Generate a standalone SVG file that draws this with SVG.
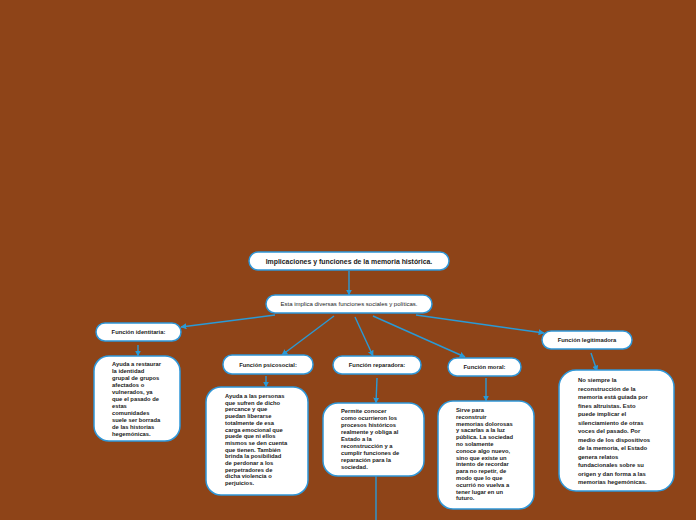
<svg xmlns="http://www.w3.org/2000/svg" width="696" height="520" viewBox="0 0 696 520">
<style>
.n{fill:#fff;stroke:#2f97d8;stroke-width:1.5}
.t{font-family:"Liberation Sans",Arial,sans-serif;fill:#1a1a1a;font-weight:bold}
.c{stroke:#2a9ad6;stroke-width:1.4;fill:none;marker-end:url(#a)}
</style>
<defs>
<marker id="a" viewBox="0 0 10 10" refX="9" refY="5" markerWidth="6" markerHeight="6" orient="auto" markerUnits="userSpaceOnUse"><path d="M0,0L10,5L0,10z" fill="#2a9ad6"/></marker>
</defs>
<rect width="696" height="520" fill="#8e4418"/>
<g id="connectors">
<path class="c" d="M349,271V295"/>
<path class="c" d="M275,315L181,327"/>
<path class="c" d="M334,316L282,355"/>
<path class="c" d="M355,317L373,356"/>
<path class="c" d="M373,316L465,357"/>
<path class="c" d="M416,315L544,333"/>
<path class="c" d="M138,345V356"/>
<path class="c" d="M266,376V387"/>
<path class="c" d="M377,378L376,403"/>
<path d="M376,476V520" stroke="#2a9ad6" stroke-width="1.4"/>
<path class="c" d="M486,378V401"/>
<path class="c" d="M591,353L597,371"/>
</g>
<g id="root"><rect class="n" x="249" y="252" width="200" height="18" rx="9"/><text class="t" x="349" y="263.6" font-size="6.9" text-anchor="middle">Implicaciones y funciones de la memoria histórica.</text></g>
<g id="sub"><rect class="n" x="266" y="295" width="166" height="18" rx="9"/><text class="t" x="349" y="306" font-size="6" text-anchor="middle" style="font-weight:normal">Esta implica diversas funciones sociales y políticas.</text></g>
<g id="identitaria"><rect class="n" x="96" y="323" width="85" height="18" rx="9"/><text class="t" x="138.5" y="334" font-size="5.8" text-anchor="middle">Función identitaria:</text></g>
<g id="identitaria-desc"><rect class="n" x="94" y="356" width="86" height="85" rx="15"/><text class="t" font-size="5.8"><tspan x="112" y="366">Ayuda a restaurar</tspan><tspan x="112" y="373">la identidad</tspan><tspan x="112" y="380">grupal de grupos</tspan><tspan x="112" y="387">afectados o</tspan><tspan x="112" y="394">vulnerados, ya</tspan><tspan x="112" y="401">que el pasado de</tspan><tspan x="112" y="408">estas</tspan><tspan x="112" y="415">comunidades</tspan><tspan x="112" y="422">suele ser borrada</tspan><tspan x="112" y="429">de las historias</tspan><tspan x="112" y="436">hegemónicas.</tspan></text></g>
<g id="psicosocial"><rect class="n" x="223" y="355" width="90" height="19" rx="9"/><text class="t" x="268" y="366.5" font-size="5.8" text-anchor="middle">Función psicosocial:</text></g>
<g id="psicosocial-desc"><rect class="n" x="206" y="387" width="102" height="108" rx="15"/><text class="t" font-size="5.8"><tspan x="225" y="398">Ayuda a las personas</tspan><tspan x="225" y="404.7">que sufren de dicho</tspan><tspan x="225" y="411.4">percance y que</tspan><tspan x="225" y="418.1">puedan liberarse</tspan><tspan x="225" y="424.8">totalmente de esa</tspan><tspan x="225" y="431.5">carga emocional que</tspan><tspan x="225" y="438.2">puede que ni ellos</tspan><tspan x="225" y="444.9">mismos se den cuenta</tspan><tspan x="225" y="451.6">que tienen. También</tspan><tspan x="225" y="458.3">brinda la posibilidad</tspan><tspan x="225" y="465">de perdonar a los</tspan><tspan x="225" y="471.7">perpetradores de</tspan><tspan x="225" y="478.4">dicha violencia o</tspan><tspan x="225" y="485.1">perjuicios.</tspan></text></g>
<g id="reparadora"><rect class="n" x="333" y="356" width="88" height="18" rx="9"/><text class="t" x="377" y="367" font-size="5.8" text-anchor="middle">Función reparadora:</text></g>
<g id="reparadora-desc"><rect class="n" x="323" y="403" width="101" height="73" rx="15"/><text class="t" font-size="5.8"><tspan x="341" y="413">Permite conocer</tspan><tspan x="341" y="420">como ocurrieron los</tspan><tspan x="341" y="427">procesos históricos</tspan><tspan x="341" y="434">realmente y obliga al</tspan><tspan x="341" y="441">Estado a la</tspan><tspan x="341" y="448">reconstrucción y a</tspan><tspan x="341" y="455">cumplir funciones de</tspan><tspan x="341" y="462">reparación para la</tspan><tspan x="341" y="469">sociedad.</tspan></text></g>
<g id="moral"><rect class="n" x="448" y="358" width="73" height="18" rx="9"/><text class="t" x="484.5" y="369" font-size="5.8" text-anchor="middle">Función moral:</text></g>
<g id="moral-desc"><rect class="n" x="438" y="401" width="96" height="108" rx="15"/><text class="t" font-size="5.8"><tspan x="456" y="412">Sirve para</tspan><tspan x="456" y="418.8">reconstruir</tspan><tspan x="456" y="425.6">memorias dolorosas</tspan><tspan x="456" y="432.4">y sacarlas a la luz</tspan><tspan x="456" y="439.2">pública. La sociedad</tspan><tspan x="456" y="446">no solamente</tspan><tspan x="456" y="452.8">conoce algo nuevo,</tspan><tspan x="456" y="459.6">sino que existe un</tspan><tspan x="456" y="466.4">intento de recordar</tspan><tspan x="456" y="473.2">para no repetir, de</tspan><tspan x="456" y="480">modo que lo que</tspan><tspan x="456" y="486.8">ocurrió no vuelva a</tspan><tspan x="456" y="493.6">tener lugar en un</tspan><tspan x="456" y="500.4">futuro.</tspan></text></g>
<g id="legitimadora"><rect class="n" x="542" y="331" width="90" height="18" rx="9"/><text class="t" x="587" y="342" font-size="5.8" text-anchor="middle">Función legitimadora</text></g>
<g id="legitimadora-desc"><rect class="n" x="559" y="370" width="115" height="121" rx="17"/><text class="t" font-size="5.9"><tspan x="578" y="382">No siempre la</tspan><tspan x="578" y="390.5">reconstrucción de la</tspan><tspan x="578" y="399">memoria está guiada por</tspan><tspan x="578" y="407.5">fines altruistas. Esto</tspan><tspan x="578" y="416">puede implicar el</tspan><tspan x="578" y="424.5">silenciamiento de otras</tspan><tspan x="578" y="433">voces del pasado. Por</tspan><tspan x="578" y="441.5">medio de los dispositivos</tspan><tspan x="578" y="450">de la memoria, el Estado</tspan><tspan x="578" y="458.5">genera relatos</tspan><tspan x="578" y="467">fundacionales sobre su</tspan><tspan x="578" y="475.5">origen y dan forma a las</tspan><tspan x="578" y="484">memorias hegemónicas.</tspan></text></g>
</svg>
